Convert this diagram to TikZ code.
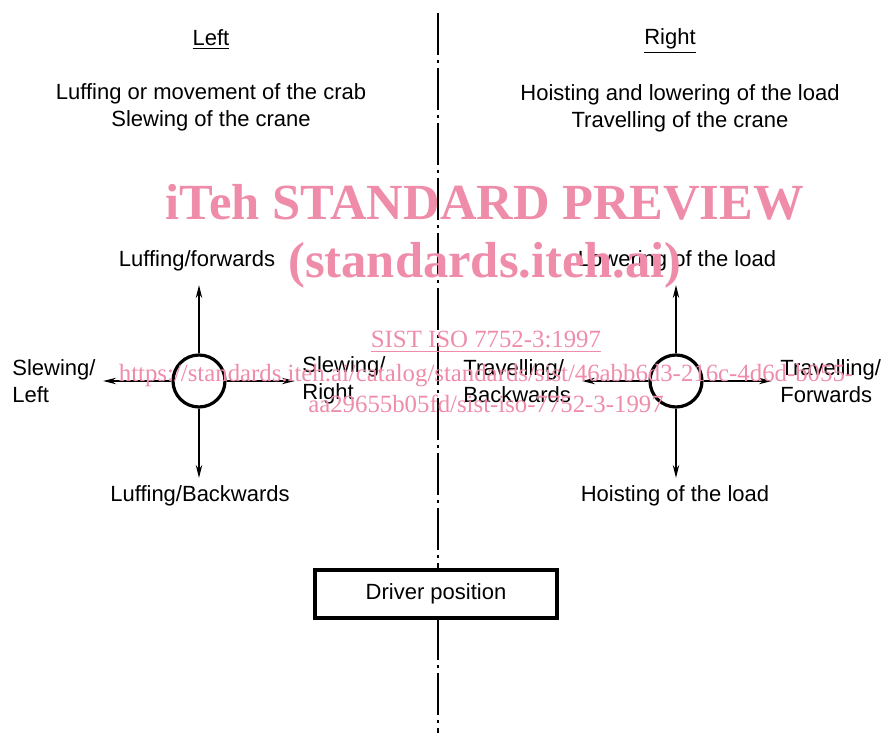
\documentclass[tikz,border=0pt]{standalone}
\usepackage{fontspec}
\setmainfont{Liberation Sans}
\newfontfamily\wmfont{Liberation Serif}
\usetikzlibrary{arrows.meta}
\definecolor{wmpink}{RGB}{238,140,170}

\begin{document}
\begin{tikzpicture}[x=0.5pt, y=-0.5pt,
    every node/.style={font=\fontsize{11}{13.5}\selectfont, inner sep=0pt},
    arr/.style={line width=0.85pt, -{Stealth[length=6.5pt, width=3.2pt]}},
    wheel/.style={circle, draw, line width=1.6pt, minimum size=26pt},
    wm/.style={text=wmpink, font=\wmfont\fontsize{12.4}{14}\selectfont}]
            \useasboundingbox (0,0) rectangle (891,733);

            % Centre line
            \coordinate (ctop) at (438,13);
            \coordinate (cbot) at (438,733);
            \draw[line width=0.7pt, dash pattern=on 21pt off 2.5pt on 1.5pt off 2.5pt] (ctop) -- (cbot);

            % Headings
            \node (left) at (211,40) {\underline{Left}};
            \node (right) at (670,41) {\underline{Right}};
            \node[align=center] (lmoves) at (211,107) {Luffing or movement of the crab\\Slewing of the crane};
            \node[align=center] (rmoves) at (680,108) {Hoisting and lowering of the load\\Travelling of the crane};

            % Left control
            \node[wheel] (cl) at (199,381) {};
            \coordinate (clup) at (199,285);
            \coordinate (cldown) at (199,478);
            \coordinate (clleft) at (103,381);
            \coordinate (clright) at (295,381);
            \draw[arr] (cl.north) -- (clup);
            \draw[arr] (cl.south) -- (cldown);
            \draw[arr] (cl.west) -- (clleft);
            \draw[arr] (cl.east) -- (clright);
            \node (luffo) at (197,261) {Luffing/forwards};
            \node (luffb) at (200,496) {Luffing/Backwards};
            \node[anchor=west, align=left] (slewl) at (12,381) {Slewing/\\Left};
            \node[anchor=west, align=left] (slewr) at (302,380) {Slewing/\\Right};

            % Right control
            \node[wheel] (cr) at (676,381) {};
            \coordinate (crup) at (676,285);
            \coordinate (crdown) at (676,478);
            \coordinate (crleft) at (582,381);
            \coordinate (crright) at (772,381);
            \draw[arr] (cr.north) -- (crup);
            \draw[arr] (cr.south) -- (crdown);
            \draw[arr] (cr.west) -- (crleft);
            \draw[arr] (cr.east) -- (crright);
            \node (lower) at (677,261) {Lowering of the load};
            \node (hoist) at (675,496) {Hoisting of the load};
            \node[anchor=west, align=left] (travb) at (463,381) {Travelling/\\Backwards};
            \node[anchor=west, align=left] (travf) at (780,381) {Travelling/\\Forwards};

            % Driver position
            \node[draw, line width=1.6pt, fill=white, minimum width=121pt, minimum height=24pt] (driver) at (436,594) {Driver position};

            % Watermark
            \node[wm, anchor=base, font=\wmfont\bfseries\fontsize{25.3}{28}\selectfont] (wm1) at (485,220) {iTeh STANDARD PREVIEW};
            \node[wm, anchor=base, font=\wmfont\bfseries\fontsize{25.3}{28}\selectfont] (wm2) at (485,278) {(standards.iteh.ai)};
            \node[wm, anchor=base] (wm3) at (486,348) {\underline{SIST ISO 7752-3:1997}};
            \node[wm, anchor=base] (wm4) at (486,382) {https://standards.iteh.ai/catalog/standards/sist/46abb6d3-216c-4d6d-b055-};
            \node[wm, anchor=base] (wm5) at (486,413) {aa29655b05fd/sist-iso-7752-3-1997};
        \end{tikzpicture}
\end{document}
